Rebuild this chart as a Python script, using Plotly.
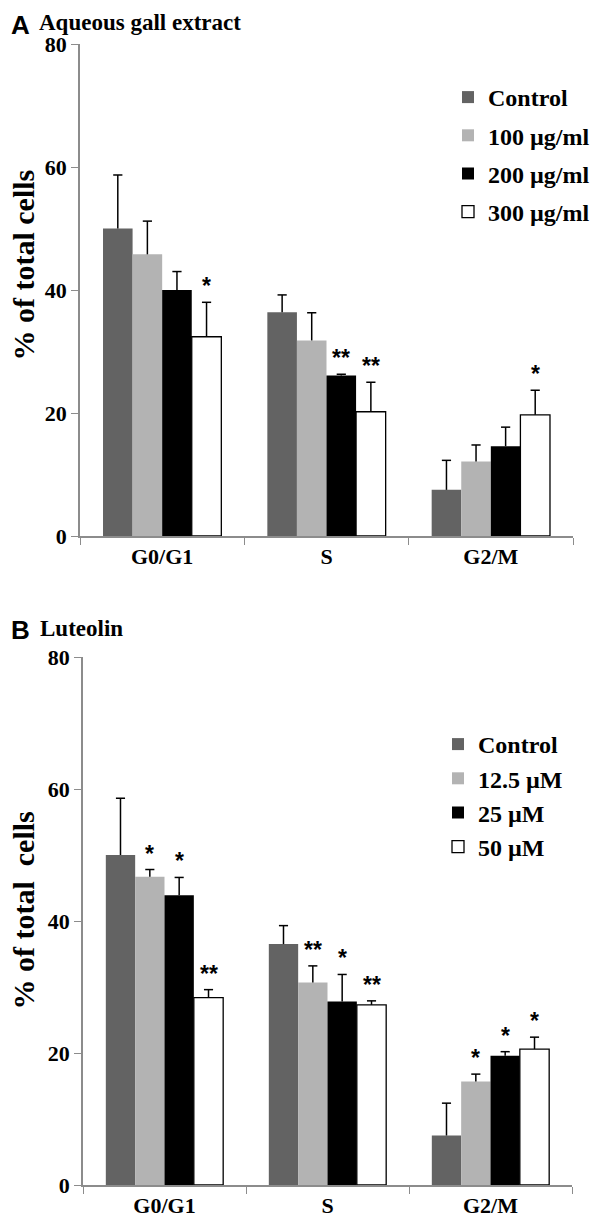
import plotly.graph_objects as go

phases = ["G0/G1", "S", "G2/M"]

# Panel A: Aqueous gall extract
a_names = ["Control", "100 µg/ml", "200 µg/ml", "300 µg/ml"]
a_control = [50.0, 36.4, 7.5]
a_100 = [45.8, 31.8, 12.1]
a_200 = [40.0, 26.1, 14.6]
a_300 = [32.4, 20.2, 19.7]
a_control_err = [8.7, 2.8, 4.8]
a_100_err = [5.4, 4.5, 2.7]
a_200_err = [3.0, 0.2, 3.1]
a_300_err = [5.6, 4.8, 4.0]
a_control_sig = ["", "", ""]
a_100_sig = ["", "", ""]
a_200_sig = ["", "**", ""]
a_300_sig = ["*", "**", "*"]

# Panel B: Luteolin
b_names = ["Control", "12.5 µM", "25 µM", "50 µM"]
b_control = [50.0, 36.5, 7.5]
b_125 = [46.7, 30.7, 15.7]
b_25 = [43.9, 27.8, 19.6]
b_50 = [28.4, 27.3, 20.6]
b_control_err = [8.6, 2.8, 4.9]
b_125_err = [1.1, 2.5, 1.1]
b_25_err = [2.7, 4.1, 0.6]
b_50_err = [1.2, 0.6, 1.8]
b_control_sig = ["", "", ""]
b_125_sig = ["*", "**", "*"]
b_25_sig = ["*", "*", "*"]
b_50_sig = ["**", "**", "*"]

y_ticks = [0, 20, 40, 60, 80]

fills = ["#636363", "#b3b3b3", "#000000", "#ffffff"]
serif = "Liberation Serif"
sans = "Liberation Sans"

# the page body has an 8px margin; figure sized to fit the window
OFF = 8
FW = 600 - OFF
FH = 1218 - OFF


def sx(p):
    return (p - OFF) / FW


def sy(p):
    return 1 - (p - OFF) / FH


BARGAP = 0.28
CAP = 0.028  # half width of error-bar caps, in category units

xpos = list(range(len(phases)))

fig = go.Figure()

panels = [
    ("x", "y", "legend", a_names,
     [a_control, a_100, a_200, a_300],
     [a_control_err, a_100_err, a_200_err, a_300_err],
     [a_control_sig, a_100_sig, a_200_sig, a_300_sig]),
    ("x2", "y2", "legend2", b_names,
     [b_control, b_125, b_25, b_50],
     [b_control_err, b_125_err, b_25_err, b_50_err],
     [b_control_sig, b_125_sig, b_25_sig, b_50_sig]),
]

for xa, ya, lg, names, vals, errs, sigs in panels:
    n = len(vals)
    bw = (1 - BARGAP) / n
    for i in range(n):
        fig.add_trace(go.Bar(
            x=xpos, y=vals[i], name=names[i],
            xaxis=xa, yaxis=ya, legend=lg, legendgroup=lg + str(i),
            marker=dict(color=fills[i],
                        line=dict(color="#000000", width=1.3 if i == 3 else 0)),
            hoverinfo="skip",
        ))
    # error bars (upper only) drawn as line segments
    ex, ey = [], []
    for i in range(n):
        off = -(1 - BARGAP) / 2 + bw * (i + 0.5)
        for j in xpos:
            xc = j + off
            top = vals[i][j] + errs[i][j]
            ex += [xc, xc, None, xc - CAP, xc + CAP, None]
            ey += [vals[i][j], top, None, top, top, None]
            if sigs[i][j]:
                fig.add_annotation(
                    x=xc, y=top, xref=xa, yref=ya, text="<b>" + sigs[i][j] + "</b>",
                    showarrow=False, yanchor="bottom", yshift=1,
                    font=dict(family=sans, size=23, color="#000000"),
                )
    fig.add_trace(go.Scatter(
        x=ex, y=ey, mode="lines", xaxis=xa, yaxis=ya, showlegend=False,
        line=dict(color="#000000", width=1.5), hoverinfo="skip",
    ))

axis_line = dict(showline=True, linecolor="#8c8c8c", linewidth=1.5,
                 showgrid=False, zeroline=False, automargin=False)
tickfont = dict(family=serif, size=22, color="#000000", weight="bold")

xa_common = dict(axis_line, range=[-0.5, 2.5], tickvals=xpos, ticktext=phases,
                 ticks="", tickfont=tickfont,
                 minor=dict(tickvals=[-0.5, 0.5, 1.5, 2.5], ticks="outside",
                            ticklen=7, tickcolor="#8c8c8c", tickwidth=1.2,
                            showgrid=False))
ya_common = dict(axis_line, range=[0, 80], tickvals=y_ticks, ticks="outside",
                 tickcolor="#8c8c8c", ticklen=7, tickwidth=1.2,
                 tickfont=tickfont)

legfont = dict(family=serif, size=24, color="#000000", weight="bold")

fig.update_layout(
    width=FW, height=FH,
    margin=dict(l=0, r=0, t=0, b=0, autoexpand=False),
    paper_bgcolor="#ffffff", plot_bgcolor="#ffffff",
    barmode="group", bargap=BARGAP, bargroupgap=0,
    xaxis=dict(xa_common, domain=[sx(80), sx(573)], anchor="y"),
    yaxis=dict(ya_common, domain=[sy(536), sy(44)], anchor="x"),
    xaxis2=dict(xa_common, domain=[sx(83), sx(572)], anchor="y2"),
    yaxis2=dict(ya_common, domain=[sy(1185), sy(657)], anchor="x2"),
    legend=dict(x=sx(448), y=sy(75), xanchor="left", yanchor="top",
                traceorder="grouped", tracegroupgap=4,
                font=legfont, bgcolor="rgba(0,0,0,0)"),
    legend2=dict(x=sx(438), y=sy(722), xanchor="left", yanchor="top",
                 traceorder="normal",
                 font=legfont, bgcolor="rgba(0,0,0,0)"),
    showlegend=True,
)

# panel labels and titles (top edges in page pixels)
titles = [("A", "Aqueous gall extract", 8.5, 8.5, 37),
          ("B", "Luteolin", 613, 614, 38)]
for letter, sub, yl, ys, xs in titles:
    fig.add_annotation(x=sx(9), y=sy(yl), xref="paper", yref="paper",
                       xanchor="left", yanchor="top", showarrow=False,
                       text="<b>" + letter + "</b>",
                       font=dict(family=sans, size=26, color="#000000"))
    fig.add_annotation(x=sx(xs), y=sy(ys), xref="paper", yref="paper",
                       xanchor="left", yanchor="top", showarrow=False,
                       text="<b>" + sub + "</b>",
                       font=dict(family=serif, size=23, color="#000000"))

# y-axis titles
for txt, yc in [("% of total cells", 265), ("% of total\u00a0 cells", 911)]:
    fig.add_annotation(x=0, y=sy(yc), xref="paper", yref="paper",
                       xanchor="left", yanchor="middle", showarrow=False,
                       textangle=-90, height=25, text="<b>" + txt + "</b>",
                       font=dict(family=serif, size=30, color="#000000"))

fig.write_html("out.html")
